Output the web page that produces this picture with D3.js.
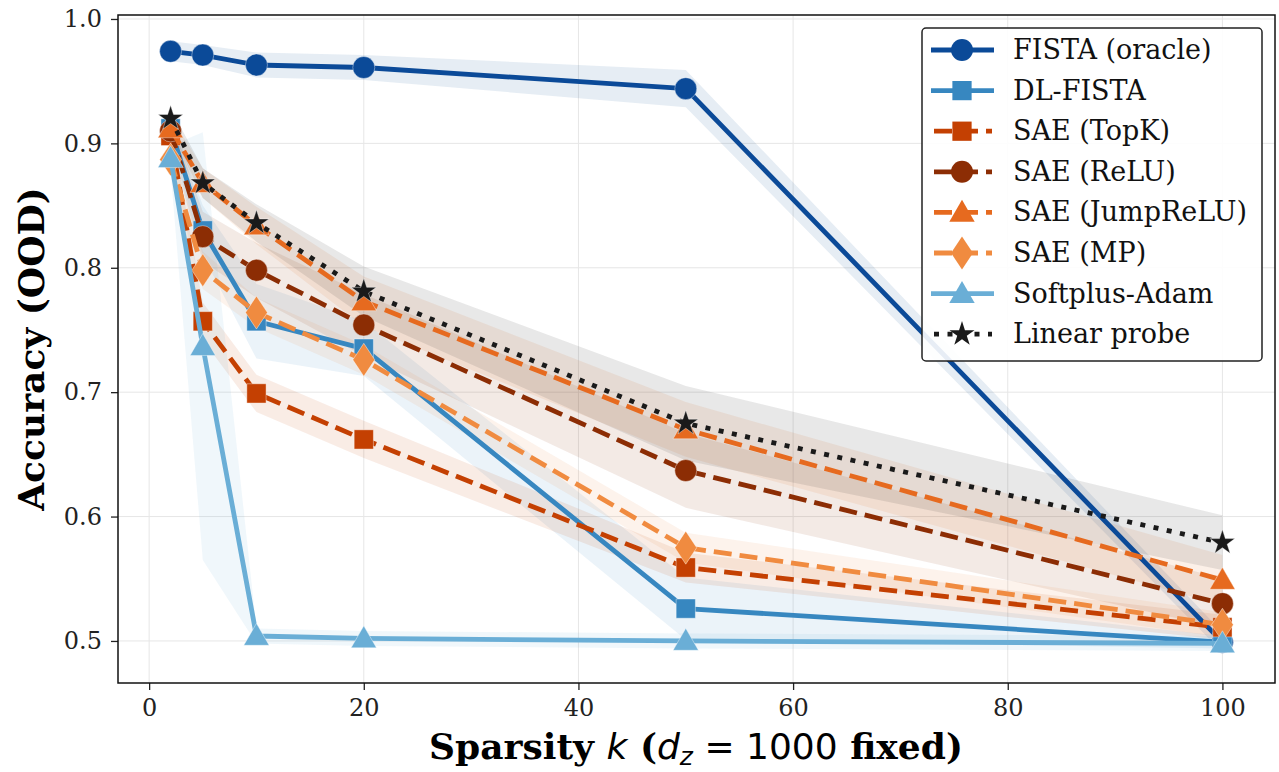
<!DOCTYPE html>
<html>
<head>
<meta charset="utf-8">
<script src="https://cdn.jsdelivr.net/npm/d3@7"></script>
<style>
  body { margin: 0; background: #fff; }
  svg { display: block; font-family: "DejaVu Serif", serif; }
  .tick text { font-size: 24px; fill: #222; }
  .grid line { stroke: #e6e6e6; stroke-width: 1; }
</style>
</head>
<body>
<svg id="chart" width="1279" height="772"></svg>
<script>
// Accuracy (OOD) vs sparsity k, one line + std band per method.

const ks = [2, 5, 10, 20, 50, 100];

const names = ["FISTA (oracle)", "DL-FISTA", "SAE (TopK)", "SAE (ReLU)",
  "SAE (JumpReLU)", "SAE (MP)", "Softplus-Adam", "Linear probe"];

const fistaMean    = [0.974, 0.971, 0.963, 0.961, 0.944, 0.499];
const fistaStd     = [0.008, 0.008, 0.010, 0.010, 0.015, 0.008];
const dlMean       = [0.912, 0.830, 0.757, 0.735, 0.526, 0.499];
const dlStd        = [0.010, 0.020, 0.030, 0.022, 0.025, 0.005];
const topkMean     = [0.906, 0.757, 0.699, 0.662, 0.559, 0.511];
const topkStd      = [0.010, 0.015, 0.015, 0.015, 0.012, 0.010];
const reluMean     = [0.910, 0.825, 0.798, 0.754, 0.637, 0.530];
const reluStd      = [0.010, 0.020, 0.022, 0.025, 0.030, 0.020];
const jumpMean     = [0.912, 0.868, 0.834, 0.773, 0.670, 0.549];
const jumpStd      = [0.010, 0.012, 0.015, 0.020, 0.022, 0.020];
const mpMean       = [0.887, 0.798, 0.764, 0.726, 0.575, 0.513];
const mpStd        = [0.010, 0.015, 0.012, 0.012, 0.012, 0.010];
const softMean     = [0.888, 0.737, 0.504, 0.502, 0.500, 0.498];
const softStd      = [0.010, 0.172, 0.006, 0.006, 0.006, 0.006];
const probeMean    = [0.920, 0.868, 0.836, 0.781, 0.675, 0.579];
const probeStd     = [0.008, 0.012, 0.015, 0.020, 0.030, 0.022];

const xTicks = [0, 20, 40, 60, 80, 100];
const yTicks = [0.5, 0.6, 0.7, 0.8, 0.9, 1.0];

const DASH = "18,8", DOT = "5,8.5";
const series = [
  { name: names[0], mean: fistaMean, std: fistaStd, color: "#0b4a98", marker: "circle",   dash: null },
  { name: names[1], mean: dlMean,    std: dlStd,    color: "#3787c0", marker: "square",   dash: null },
  { name: names[2], mean: topkMean,  std: topkStd,  color: "#c44002", marker: "square",   dash: DASH },
  { name: names[3], mean: reluMean,  std: reluStd,  color: "#8c2d04", marker: "circle",   dash: DASH },
  { name: names[4], mean: jumpMean,  std: jumpStd,  color: "#e66a1f", marker: "triangle", dash: DASH },
  { name: names[5], mean: mpMean,    std: mpStd,    color: "#f08b40", marker: "diamond",  dash: DASH },
  { name: names[6], mean: softMean,  std: softStd,  color: "#6aaed6", marker: "triangle", dash: null },
  { name: names[7], mean: probeMean, std: probeStd, color: "#1a1a1a", marker: "star",     dash: DOT }
];

const margin = { left: 118, top: 15, right: 4, bottom: 89 };
const W = 1279, H = 772;
const LW = 4.8;
const svg = d3.select("#chart");

const x = d3.scaleLinear().domain([-2.9, 104.9]).range([margin.left, W - margin.right]);
const y = d3.scaleLinear().domain([0.4662, 1.0032]).range([H - margin.bottom, margin.top]);

// grid
const grid = svg.append("g").attr("class", "grid");
grid.selectAll(".gx").data(xTicks).enter().append("line")
  .attr("x1", d => x(d)).attr("x2", d => x(d))
  .attr("y1", margin.top).attr("y2", H - margin.bottom);
grid.selectAll(".gy").data(yTicks).enter().append("line")
  .attr("x1", margin.left).attr("x2", W - margin.right)
  .attr("y1", d => y(d)).attr("y2", d => y(d));

const plot = svg.append("g");

const area = d3.area()
  .x((d, i) => x(ks[i]))
  .y0(d => y(d[0] - d[1]))
  .y1(d => y(d[0] + d[1]));
const line = d3.line().x((d, i) => x(ks[i])).y(d => y(d));

// bands first
series.forEach(s => {
  plot.append("path")
    .datum(s.mean.map((m, i) => [m, s.std[i]]))
    .attr("d", area)
    .attr("fill", s.color)
    .attr("fill-opacity", 0.1);
});

function markerPath(type, size) {
  const sym = {
    circle: d3.symbolCircle, square: d3.symbolSquare, triangle: d3.symbolTriangle,
    diamond: d3.symbolDiamond, star: d3.symbolStar
  }[type];
  const area = {
    circle: Math.PI * size * size,
    square: (size * 1.75) ** 2,
    triangle: size * size * 2.3,
    diamond: size * size * 2.6,
    star: size * size * 1.6
  }[type];
  return d3.symbol().type(sym).size(area)();
}

series.forEach(s => {
  plot.append("path")
    .datum(s.mean)
    .attr("d", line)
    .attr("fill", "none")
    .attr("stroke", s.color)
    .attr("stroke-width", LW)
    .attr("stroke-dasharray", s.dash)
    .attr("stroke-linejoin", "round");
  plot.selectAll(null).data(s.mean).enter().append("path")
    .attr("d", markerPath(s.marker, 11))
    .attr("transform", (d, i) => {
      const dy = s.marker === "triangle" ? 2 : 0;
      const rot = s.marker === "diamond" ? " scale(1.15,1)" : "";
      return `translate(${x(ks[i])},${y(d) + dy})${rot}`;
    })
    .attr("fill", s.color)
    .attr("stroke", "#fff")
    .attr("stroke-opacity", 0.5)
    .attr("stroke-width", 0.8);
});

// axes
const xAxis = svg.append("g")
  .attr("transform", `translate(0,${H - margin.bottom})`)
  .call(d3.axisBottom(x).tickValues(xTicks).tickSize(7).tickPadding(9).tickFormat(d3.format("d")));
const yAxis = svg.append("g")
  .attr("transform", `translate(${margin.left},0)`)
  .call(d3.axisLeft(y).tickValues(yTicks).tickSize(7).tickPadding(9).tickFormat(d3.format(".1f")));
[xAxis, yAxis].forEach(a => {
  a.select(".domain").remove();
  a.selectAll(".tick line").attr("stroke", "#222").attr("stroke-width", 1.3);
  a.selectAll("text").style("font-family", "DejaVu Serif");
});

svg.append("rect")
  .attr("x", margin.left).attr("y", margin.top)
  .attr("width", W - margin.right - margin.left).attr("height", H - margin.bottom - margin.top)
  .attr("fill", "none").attr("stroke", "#111").attr("stroke-width", 1.5);

// axis labels
const xl = svg.append("text")
  .attr("x", 696).attr("y", 759)
  .attr("text-anchor", "middle")
  .style("font-size", "36px").style("font-weight", "bold");
xl.append("tspan").text("Sparsity ");
xl.append("tspan").style("font-family", "DejaVu Sans").style("font-style", "italic").style("font-weight", "normal").text("k");
xl.append("tspan").text(" (");
xl.append("tspan").style("font-family", "DejaVu Sans").style("font-style", "italic").style("font-weight", "normal").text("d");
xl.append("tspan").attr("baseline-shift", "-22%").style("font-size", "25px").style("font-family", "DejaVu Sans")
  .style("font-style", "italic").style("font-weight", "normal").text("z");
xl.append("tspan").style("font-family", "DejaVu Sans").style("font-weight", "normal").text(" = 1000");
xl.append("tspan").text(" fixed)");

svg.append("text")
  .attr("transform", `translate(44,${(margin.top + H - margin.bottom) / 2}) rotate(-90)`)
  .attr("text-anchor", "middle")
  .style("font-size", "36px").style("font-weight", "bold")
  .text("Accuracy (OOD)");

// legend
const lg = svg.append("g").attr("transform", "translate(922,28)");
lg.append("rect")
  .attr("width", 340).attr("height", 333).attr("rx", 4)
  .attr("fill", "#fff").attr("fill-opacity", 0.9)
  .attr("stroke", "#222").attr("stroke-width", 1.5);
series.forEach((s, i) => {
  const ry = 22 + i * 40.6;
  const row = lg.append("g").attr("transform", `translate(0,${ry})`);
  row.append("line")
    .attr("x1", s.dash ? 12 : 9).attr("x2", s.dash ? 70 : 72)
    .attr("stroke", s.color).attr("stroke-width", LW)
    .attr("stroke-dasharray", s.dash);
  row.append("path")
    .attr("d", markerPath(s.marker, 11))
    .attr("transform", `translate(40,${s.marker === "triangle" ? 2 : 0})${s.marker === "diamond" ? " scale(1.15,1)" : ""}`)
    .attr("fill", s.color);
  row.append("text")
    .attr("x", 91).attr("y", 9)
    .style("font-size", "27px").style("fill", "#111")
    .text(s.name);
});
</script>
</body>
</html>
